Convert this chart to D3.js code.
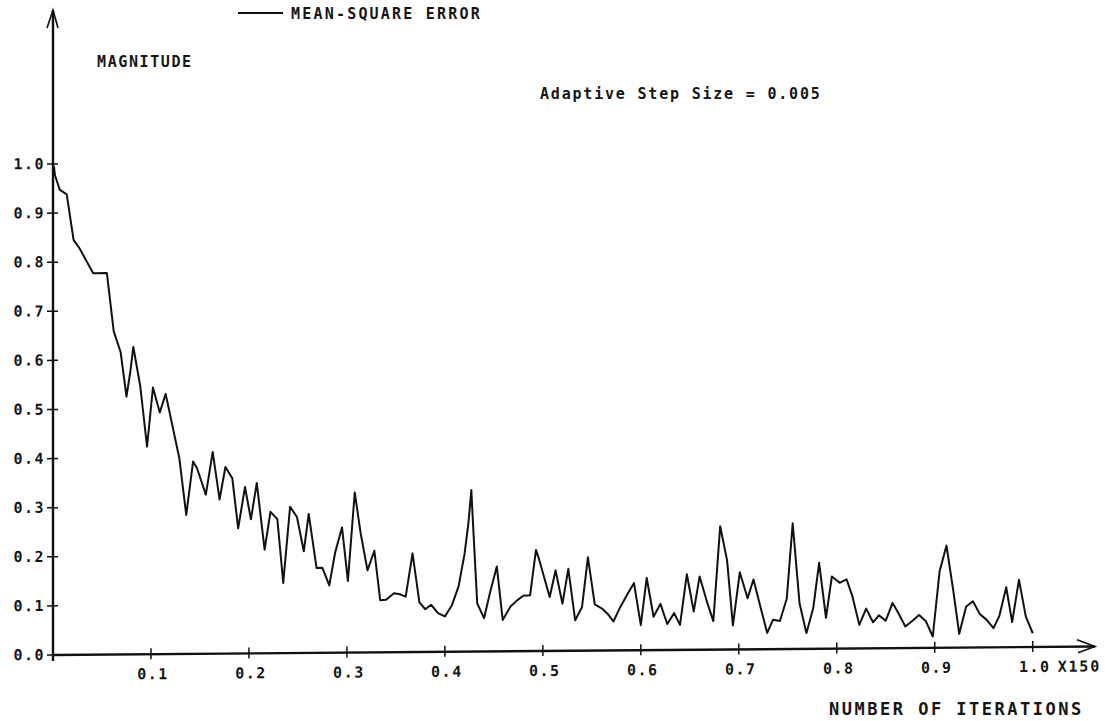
<!DOCTYPE html>
<html>
<head>
<meta charset="utf-8">
<script src="https://cdn.jsdelivr.net/npm/d3@7"></script>
<style>
  body { margin: 0; background: #fff; }
  text { font-family: "DejaVu Sans Mono", monospace; fill: #151515; font-weight: bold; }
</style>
</head>
<body>
<div id="chart"></div>
<script>
// iteration position (units of 150 iterations) and mean-square error
let iterFrac = [0.001, 0.002, 0.007, 0.014, 0.021, 0.027, 0.041, 0.055, 0.062, 0.069,
  0.075, 0.079, 0.082, 0.089, 0.096, 0.102, 0.109, 0.115, 0.129, 0.136,
  0.143, 0.147, 0.156, 0.163, 0.170, 0.176, 0.183, 0.189, 0.196, 0.202,
  0.208, 0.216, 0.222, 0.229, 0.235, 0.242, 0.249, 0.256, 0.261, 0.269,
  0.275, 0.282, 0.288, 0.295, 0.301, 0.308, 0.314, 0.321, 0.328, 0.334,
  0.340, 0.348, 0.354, 0.360, 0.367, 0.374, 0.380, 0.386, 0.393, 0.400,
  0.407, 0.414, 0.420, 0.424, 0.427, 0.428, 0.433, 0.440, 0.446, 0.453,
  0.459, 0.467, 0.474, 0.480, 0.487, 0.493, 0.496, 0.507, 0.513, 0.520,
  0.526, 0.533, 0.540, 0.546, 0.553, 0.560, 0.566, 0.572, 0.579, 0.586,
  0.593, 0.600, 0.606, 0.613, 0.620, 0.627, 0.634, 0.640, 0.647, 0.654,
  0.660, 0.667, 0.674, 0.681, 0.688, 0.694, 0.701, 0.709, 0.715, 0.722,
  0.729, 0.735, 0.742, 0.749, 0.755, 0.762, 0.769, 0.776, 0.782, 0.789,
  0.795, 0.803, 0.810, 0.816, 0.823, 0.830, 0.837, 0.843, 0.850, 0.857,
  0.863, 0.870, 0.877, 0.884, 0.891, 0.898, 0.905, 0.912, 0.919, 0.925,
  0.932, 0.939, 0.946, 0.953, 0.960, 0.966, 0.973, 0.979, 0.986, 0.993, 1.000];

let mse = [0.995, 0.977, 0.947, 0.938, 0.845, 0.828, 0.777, 0.777, 0.658, 0.616,
  0.525, 0.577, 0.626, 0.547, 0.423, 0.543, 0.492, 0.530, 0.398, 0.283,
  0.392, 0.378, 0.324, 0.411, 0.314, 0.380, 0.357, 0.255, 0.339, 0.273,
  0.347, 0.211, 0.288, 0.273, 0.143, 0.298, 0.277, 0.207, 0.283, 0.173,
  0.173, 0.137, 0.204, 0.255, 0.146, 0.326, 0.243, 0.167, 0.207, 0.106,
  0.107, 0.120, 0.118, 0.113, 0.201, 0.101, 0.087, 0.096, 0.079, 0.072,
  0.094, 0.133, 0.198, 0.261, 0.329, 0.288, 0.098, 0.068, 0.119, 0.173,
  0.064, 0.091, 0.104, 0.113, 0.114, 0.206, 0.188, 0.110, 0.164, 0.096,
  0.167, 0.062, 0.089, 0.190, 0.094, 0.086, 0.075, 0.059, 0.088, 0.113,
  0.137, 0.051, 0.147, 0.068, 0.094, 0.053, 0.075, 0.051, 0.154, 0.078,
  0.149, 0.101, 0.058, 0.251, 0.182, 0.049, 0.157, 0.104, 0.142, 0.087,
  0.033, 0.060, 0.057, 0.103, 0.256, 0.093, 0.032, 0.083, 0.175, 0.063,
  0.147, 0.134, 0.141, 0.106, 0.048, 0.081, 0.053, 0.067, 0.056, 0.092,
  0.071, 0.044, 0.055, 0.067, 0.054, 0.023, 0.156, 0.208, 0.115, 0.028,
  0.083, 0.094, 0.068, 0.056, 0.039, 0.064, 0.122, 0.051, 0.137, 0.062, 0.028];

let xTicks = [0.1, 0.2, 0.3, 0.4, 0.5, 0.6, 0.7, 0.8, 0.9, 1.0];
let yTicks = [0.0, 0.1, 0.2, 0.3, 0.4, 0.5, 0.6, 0.7, 0.8, 0.9, 1.0];

const width = 1105, height = 721;
const x0 = 53, x1 = 1032.7, y0 = 655, y1 = 164;
const tilt = -0.468; // plotter sheet sits slightly askew

let svg = d3.select('#chart')
  .append('svg')
    .attr('width', width)
    .attr('height', height)
    .style('background', '#fff');

let x = d3.scaleLinear().domain([0, 1]).range([x0, x1]);
let y = d3.scaleLinear().domain([0, 1]).range([y0, y1]);

let plot = svg.append('g')
  .attr('transform', `translate(${x0},${y0}) skewY(${tilt}) translate(${-x0},${-y0})`);

// axes
plot.append('line')
  .attr('x1', x0).attr('y1', y0).attr('x2', 1095).attr('y2', y0)
  .attr('stroke', '#111').attr('stroke-width', 2.4);
plot.append('path')
  .attr('d', `M1077,${y0 - 7} L1095,${y0} L1078,${y0 + 6}`)
  .attr('fill', 'none').attr('stroke', '#111').attr('stroke-width', 1.6);

plot.append('line')
  .attr('x1', x0).attr('y1', y0 + 6).attr('x2', x0).attr('y2', 10)
  .attr('stroke', '#111').attr('stroke-width', 2.4);
plot.append('path')
  .attr('d', `M${x0 - 6},28 L${x0},10 L${x0 + 5},28`)
  .attr('fill', 'none').attr('stroke', '#111').attr('stroke-width', 1.6);

// x ticks
let xt = plot.selectAll('.xtick')
  .data(xTicks)
  .enter()
  .append('g')
    .attr('class', 'xtick');
xt.append('line')
  .attr('x1', d => x(d)).attr('x2', d => x(d))
  .attr('y1', y0 - 6).attr('y2', y0 + 5)
  .attr('stroke', '#111').attr('stroke-width', 1.5);
xt.append('text')
  .attr('x', d => x(d) + 2)
  .attr('y', y0 + 25)
  .attr('text-anchor', 'middle')
  .style('font-size', '15px')
  .style('letter-spacing', '1.5px')
  .text(d => d3.format('.1f')(d));

plot.append('text')
  .attr('x', x(1) + 25)
  .attr('y', y0 + 25)
  .style('font-size', '15px')
  .style('letter-spacing', '1.8px')
  .text('X150');

// y ticks
let yt = plot.selectAll('.ytick')
  .data(yTicks)
  .enter()
  .append('g')
    .attr('class', 'ytick');
yt.append('line')
  .attr('x1', x0 - 6).attr('x2', x0 + 5)
  .attr('y1', d => y(d)).attr('y2', d => y(d))
  .attr('stroke', '#111').attr('stroke-width', 1.5);
yt.append('text')
  .attr('x', 45)
  .attr('y', d => y(d) + 5)
  .attr('text-anchor', 'end')
  .style('font-size', '15px')
  .style('letter-spacing', '1.5px')
  .text(d => d3.format('.1f')(d));

// curve
let points = iterFrac.map((d, i) => [d, mse[i]]);
let line = d3.line()
  .x(d => x(d[0]))
  .y(d => y(d[1]));

plot.append('path')
  .datum(points)
  .attr('d', line)
  .attr('fill', 'none')
  .attr('stroke', '#111')
  .attr('stroke-width', 2)
  .attr('stroke-linejoin', 'round');

// labels
svg.append('text')
  .attr('x', 97).attr('y', 67)
  .style('font-size', '15px')
  .style('letter-spacing', '1.6px')
  .text('MAGNITUDE');

svg.append('line')
  .attr('x1', 238).attr('x2', 283)
  .attr('y1', 13).attr('y2', 13)
  .attr('stroke', '#111').attr('stroke-width', 2);
svg.append('text')
  .attr('x', 291).attr('y', 19)
  .style('font-size', '15px')
  .style('letter-spacing', '2.2px')
  .text('MEAN-SQUARE ERROR');

svg.append('text')
  .attr('x', 540).attr('y', 99)
  .style('font-size', '15px')
  .style('letter-spacing', '1.8px')
  .text('Adaptive Step Size = 0.005');

svg.append('text')
  .attr('x', 829).attr('y', 715)
  .style('font-size', '17px')
  .style('letter-spacing', '2.5px')
  .text('NUMBER OF ITERATIONS');
</script>
</body>
</html>
